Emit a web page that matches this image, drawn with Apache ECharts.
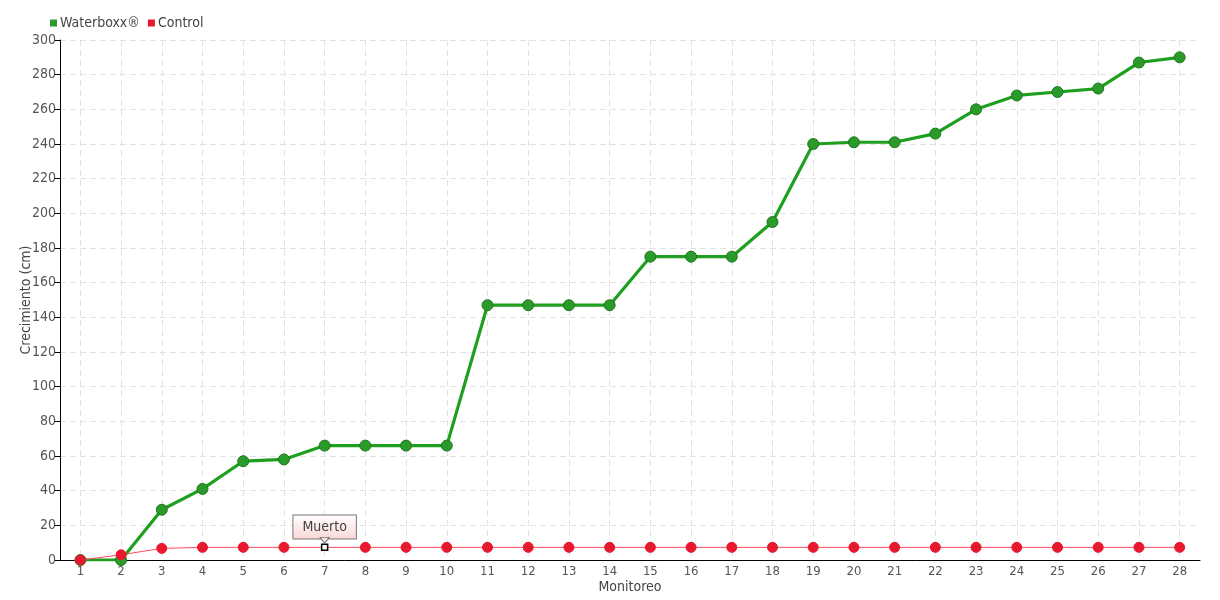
<!DOCTYPE html>
<html><head><meta charset="utf-8">
<script src="https://cdn.jsdelivr.net/npm/echarts@6/dist/echarts.min.js"></script>
<style>html,body{margin:0;padding:0;background:#fff}#c{width:1220px;height:600px}</style>
</head><body><div id="c"></div>
<script>
const categories = ['1','2','3','4','5','6','7','8','9','10','11','12','13','14','15','16','17','18','19','20','21','22','23','24','25','26','27','28'];
const waterboxx = [0,0,29,41,57,58,66,66,66,66,147,147,147,147,175,175,175,195,240,241,241,246,260,268,270,272,287,290];
const control = [0,3,6.7,7.3,7.3,7.3,7.3,7.3,7.3,7.3,7.3,7.3,7.3,7.3,7.3,7.3,7.3,7.3,7.3,7.3,7.3,7.3,7.3,7.3,7.3,7.3,7.3,7.3];
const deadIndex = 6;
const deadLabel = 'Muerto';
const seriesNames = ['Waterboxx®','Control'];
const axisNames = ['Monitoreo','Crecimiento (cm)'];

const FONT = '"DejaVu Sans Condensed", "Liberation Sans Narrow", sans-serif';
const chart = echarts.init(document.getElementById('c'));
const controlData = control.map((v,i)=> i===deadIndex ? {
  value: v, symbol: 'rect', symbolSize: 6,
  itemStyle: {color:'#fff', borderColor:'#000', borderWidth:1.5},
  label: {show:true, position:'top', distance: 5, formatter: deadLabel,
    fontFamily: FONT, fontSize: 14, color:'#444',
    backgroundColor: {type:'linear',x:0,y:0,x2:0,y2:1,colorStops:[{offset:0,color:'#ffffff'},{offset:1,color:'#fbd6d6'}]},
    borderColor:'#777', borderWidth:1, padding:[5,9,4,9]}
} : v);
chart.setOption({
  animation:false,
  textStyle:{fontFamily:FONT},
  legend:{left:45, top:11, itemWidth:7, itemHeight:7, itemGap:8,
    itemStyle:{borderWidth:0},
    textStyle:{fontFamily:FONT, fontSize:14, color:'#444', padding:[0,0,0,-2]},
    data:[{name:seriesNames[0], icon:'rect'},{name:seriesNames[1], icon:'rect'}]},
  grid:{left:60, right:20, top:40, bottom:40, outerBoundsMode:'none', containLabel:false},
  xAxis:{type:'category', data:categories, boundaryGap:true,
    name:axisNames[0], nameLocation:'middle', nameGap:20, nameMoveOverlap:false,
    nameTextStyle:{fontFamily:FONT, fontSize:14, color:'#444'},
    axisLine:{lineStyle:{color:'#000', width:1}},
    axisTick:{alignWithLabel:true, length:4, lineStyle:{color:'#000'}},
    axisLabel:{fontFamily:FONT, fontSize:13, color:'#555', margin:5},
    splitLine:{show:true, alignWithLabel:true, lineStyle:{type:[6,4], color:'#e2e2e2'}}},
  yAxis:{type:'value', min:0, max:300, interval:20,
    name:axisNames[1], nameLocation:'middle', nameGap:27, nameRotate:90, nameMoveOverlap:false,
    nameTextStyle:{fontFamily:FONT, fontSize:14, color:'#444'},
    axisLine:{show:true, lineStyle:{color:'#000', width:1}},
    axisTick:{show:true, length:5, lineStyle:{color:'#000'}},
    axisLabel:{fontFamily:FONT, fontSize:14, color:'#555', margin:4},
    splitLine:{show:true, lineStyle:{type:[6,4], color:'#e2e2e2'}}},
  series:[
    {name:seriesNames[0], type:'line', data:waterboxx, z:3,
      lineStyle:{color:'#1f9f1f', width:3.2},
      itemStyle:{color:'#2a9a2a', borderColor:'#1c781c', borderWidth:1},
      symbol:'circle', symbolSize:11},
    {name:seriesNames[1], type:'line', data:controlData, z:4,
      lineStyle:{color:'#ff4a5a', width:1},
      itemStyle:{color:'#e8192c', borderColor:'#e8192c'},
      symbol:'circle', symbolSize:10,
      markPoint:{silent:true, symbol:'triangle', symbolSize:[9,6], symbolRotate:180,
        symbolOffset:[0,-7],
        itemStyle:{color:'#fde0e0', borderColor:'#777', borderWidth:1},
        label:{show:false},
        data:[{coord:[deadIndex, control[deadIndex]]}]}}
  ],
  color:['#1f9f1f','#e8192c']
});
</script></body></html>
